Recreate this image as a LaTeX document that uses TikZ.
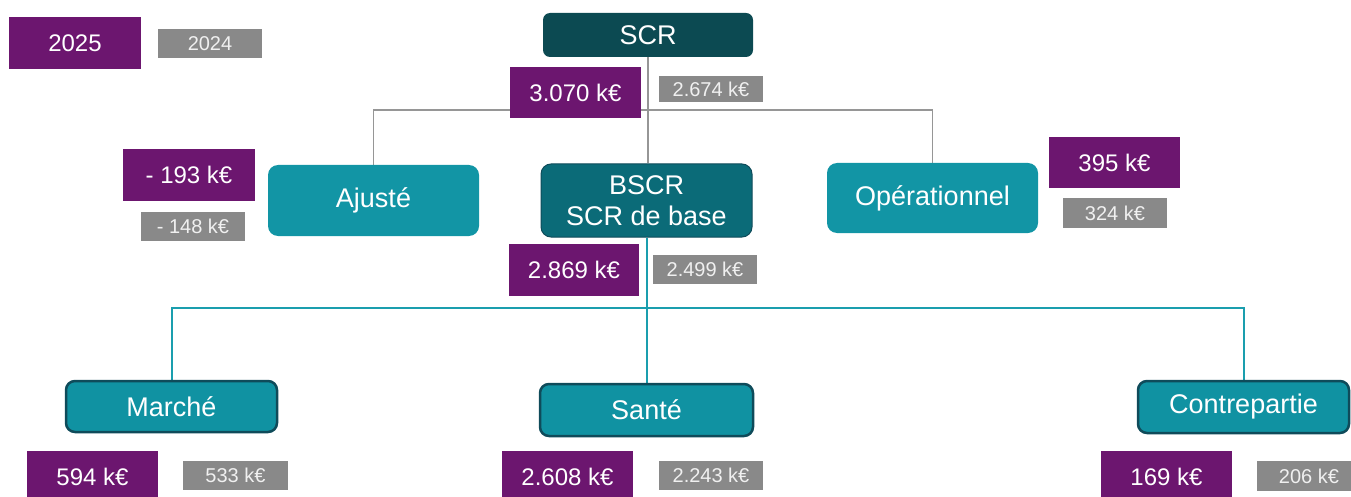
\documentclass[tikz,border=0pt]{standalone}
\usepackage{fontspec}
\setmainfont{Liberation Sans}
\usetikzlibrary{backgrounds}
\definecolor{cPurple}{RGB}{108,22,111}
\definecolor{cGray}{RGB}{137,137,137}
\definecolor{cLine}{RGB}{150,150,150}
\definecolor{cTealLine}{RGB}{26,158,174}
\definecolor{cScr}{RGB}{12,74,82}
\definecolor{cBscr}{RGB}{11,107,120}
\definecolor{cBoxLight}{RGB}{18,149,165}
\definecolor{cBoxRisk}{RGB}{16,146,162}
\definecolor{cBorder}{RGB}{15,75,90}
\tikzset{
  amount/.style={fill=cPurple, text=white, inner sep=0pt,
    font=\fontsize{24}{28}\selectfont},
  prior/.style={fill=cGray, text=white!94!black, inner sep=0pt,
    font=\fontsize{20}{24}\selectfont},
  topbox/.style={fill=cScr, rounded corners=7pt, text=white, inner sep=0pt,
    font=\fontsize{27}{31}\selectfont},
  midbox/.style={fill=cBoxLight, rounded corners=10pt, text=white, inner sep=0pt,
    font=\fontsize{27}{31}\selectfont},
  basebox/.style={fill=cBscr, draw=cBorder, line width=1pt, rounded corners=10pt,
    text=white, inner sep=0pt, align=center, font=\fontsize{27}{31}\selectfont},
  riskbox/.style={fill=cBoxRisk, draw=cBorder, line width=2.5pt, rounded corners=9pt,
    text=white, inner sep=0pt, font=\fontsize{27}{31}\selectfont},
  grayline/.style={draw=cLine, line width=1.8pt},
  tealline/.style={draw=cTealLine, line width=2pt},
}
\begin{document}
\begin{tikzpicture}[x=1pt, y=-1pt]
\useasboundingbox (0,0) rectangle (1351,497);
\begin{scope}
\clip (0,0) rectangle (1351,497);

% legend
\node[amount, minimum width=132pt, minimum height=52pt] (y2025) at (75,43) {2025};
\node[prior, minimum width=104pt, minimum height=29pt] (y2024) at (210,43.5) {2024};

% total SCR
\node[topbox, minimum width=210pt, minimum height=44pt] (scr) at (648,35) {SCR};
\node[amount, minimum width=131pt, minimum height=51pt] (a3070) at (575.5,92.5) {3.070 k€};
\node[prior, minimum width=104pt, minimum height=26pt] (b2674) at (711,89) {2.674 k€};

% second level
\node[midbox, minimum width=211pt, minimum height=71pt] (ajuste) at (373.5,200.5) {Ajusté};
\node[amount, minimum width=132pt, minimum height=52pt] (a193) at (189,175) {- 193 k€};
\node[prior, minimum width=104pt, minimum height=29pt] (b148) at (193,226.5) {- 148 k€};

\node[basebox, minimum width=211pt, minimum height=73pt] (bscr) at (646.5,200.5) {BSCR\\SCR de base};
\node[amount, minimum width=130pt, minimum height=52pt] (a2869) at (574,270) {2.869 k€};
\node[prior, minimum width=104pt, minimum height=29pt] (b2499) at (705,269.5) {2.499 k€};

\node[midbox, minimum width=211pt, minimum height=70pt] (oper) at (932.5,198) {Opérationnel};
\node[amount, minimum width=131pt, minimum height=51pt] (a395) at (1114.5,162.5) {395 k€};
\node[prior, minimum width=104pt, minimum height=30pt] (b324) at (1115,213) {324 k€};

% risk modules
\node[riskbox, minimum width=211pt, minimum height=51pt] (marche) at (171.5,406.5) {Marché};
\node[amount, minimum width=131pt, minimum height=52pt] (a594) at (92.5,477) {594 k€};
\node[prior, minimum width=105pt, minimum height=29pt] (b533) at (235.5,475.5) {533 k€};

\node[riskbox, minimum width=213pt, minimum height=52pt] (sante) at (646.5,410) {Santé};
\node[amount, minimum width=131pt, minimum height=52pt] (a2608) at (567.5,477) {2.608 k€};
\node[prior, minimum width=104pt, minimum height=29pt] (b2243) at (711,475.5) {2.243 k€};

\node[riskbox, minimum width=211pt, minimum height=52pt] (contre) at (1243.5,407) {Contrepartie};
\node[amount, minimum width=131pt, minimum height=52pt] (a169) at (1166.5,477) {169 k€};
\node[prior, minimum width=104pt, minimum height=30pt] (b206) at (1309,476) {206 k€};

% junctions of the tree
\coordinate (gj) at (648,110);
\coordinate (tj) at (646,308);

\begin{pgfonlayer}{background}
  \draw[grayline] (scr.south) -- (scr.south |- bscr.north);
  \draw[grayline] (ajuste.north) |- (gj) -| (oper.north);
  \draw[tealline] (bscr.south) -- (sante.north);
  \draw[tealline] (marche.north) |- (tj) -| (contre.north);
\end{pgfonlayer}
\end{scope}
\end{tikzpicture}
\end{document}
